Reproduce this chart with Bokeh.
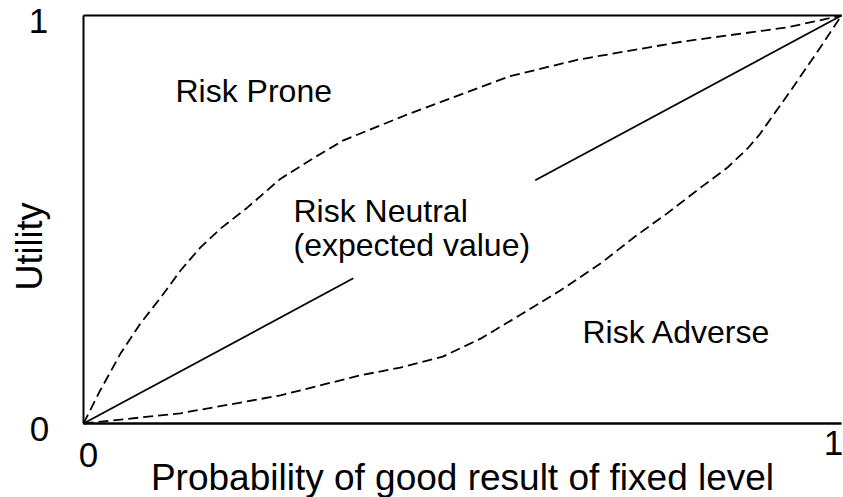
from math import pi
from bokeh.plotting import figure
from bokeh.models import Range1d, Label
from bokeh.embed import file_html
from bokeh.resources import INLINE

# ---- data ----
prone_x = [0.0, 0.022, 0.049, 0.075, 0.102, 0.128, 0.154, 0.181, 0.216, 0.260,
           0.303, 0.343, 0.424, 0.562, 0.653, 0.790, 0.929, 1.0]
prone_y = [0.0, 0.081, 0.172, 0.245, 0.309, 0.375, 0.431, 0.478, 0.529, 0.600,
           0.650, 0.694, 0.755, 0.851, 0.892, 0.936, 0.971, 1.0]

adverse_x = [0.0, 0.128, 0.260, 0.365, 0.418, 0.474, 0.524, 0.577, 0.629, 0.682,
             0.726, 0.770, 0.814, 0.850, 0.876, 0.891, 0.933, 0.974, 1.0]
adverse_y = [0.0, 0.025, 0.069, 0.118, 0.137, 0.164, 0.208, 0.267, 0.326, 0.392,
             0.456, 0.515, 0.578, 0.628, 0.674, 0.706, 0.816, 0.927, 1.0]

neutral_lo_x = [0.0, 0.356]
neutral_lo_y = [0.0, 0.356]
neutral_hi_x = [0.596, 1.0]
neutral_hi_y = [0.596, 1.0]

ticks = [0, 1]
tick_labels = ["0", "1"]
region_labels = ["Risk Prone", "Risk Neutral", "(expected value)", "Risk Adverse"]
x_title = "Probability of good result of fixed level"
y_title = "Utility"

FONT = "Liberation Sans"

# ---- layout: the plotting frame covers the whole canvas; the axis box is 0..1 ----
W, H = 843, 497
BOX_L, BOX_R, BOX_T, BOX_B = 83, 841, 15, 423   # pixel edges of the 0..1 box
sx = (BOX_R - BOX_L)
sy = (BOX_B - BOX_T)

def dx(px):
    return (px - BOX_L) / sx

def dy(py):
    return (BOX_B - py) / sy

p = figure(width=W, height=H,
           x_range=Range1d(dx(0), dx(W)), y_range=Range1d(dy(H), dy(0)),
           output_backend="svg", toolbar_location=None,
           x_axis_location=None, y_axis_location=None,
           min_border=0, min_border_left=0, min_border_right=0,
           min_border_top=0, min_border_bottom=0)
p.outline_line_color = None
p.grid.visible = False
p.background_fill_color = "white"
p.border_fill_color = "white"

x0, x1 = ticks[0], ticks[-1]
# box: left, top, bottom edges
p.line([x0, x0], [x0, x1], line_color="black", line_width=2)
p.line([x0, x1], [x1, x1], line_color="black", line_width=2)
p.line([x0, x1], [x0, x0], line_color="black", line_width=2.5)

LW = 1.8
dash = "10 5"
p.line(prone_x, prone_y, line_color="black", line_width=LW, line_dash=dash)
p.line(adverse_x, adverse_y, line_color="black", line_width=LW, line_dash=dash)
p.line(neutral_lo_x, neutral_lo_y, line_color="black", line_width=LW)
p.line(neutral_hi_x, neutral_hi_y, line_color="black", line_width=LW)

def lab(x, y, text, size, align="left", angle=0.0):
    p.add_layout(Label(x=x, y=y, text=text, text_font=FONT, text_font_size=f"{size}px",
                       text_color="black", text_align=align, text_baseline="middle",
                       angle=angle))

# region annotations (y given as text middle, from the baseline)
A = 32
lab(dx(175), dy(102 - 0.355 * A), region_labels[0], A)
lab(dx(293), dy(222 - 0.355 * A), region_labels[1], A)
lab(dx(293), dy(256 - 0.355 * A), region_labels[2], A)
lab(dx(582), dy(343 - 0.355 * A), region_labels[3], A)

# tick labels
T = 35
lab(dx(38), dy(33 - 0.355 * T), tick_labels[1], T, align="center")
lab(dx(39), dy(441 - 0.355 * T), tick_labels[0], T, align="center")
lab(dx(88), dy(467 - 0.355 * T), tick_labels[0], T, align="center")
lab(dx(833), dy(455 - 0.355 * T), tick_labels[1], T, align="center")

# axis titles
S = 37
lab((x0 + x1) / 2, dy(490 - 0.355 * S), x_title, S, align="center")
lab(dx(42 - 0.355 * 36), dy(246), y_title, 36, align="center", angle=pi / 2)

open("out.html", "w").write(file_html(p, INLINE))
